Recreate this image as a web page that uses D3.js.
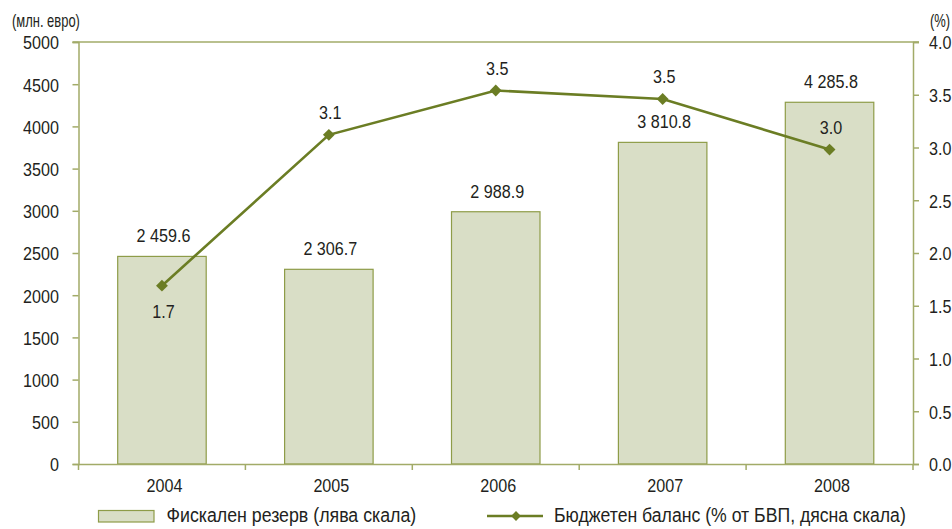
<!DOCTYPE html>
<html>
<head>
<meta charset="utf-8">
<script src="https://cdn.jsdelivr.net/npm/d3@7"></script>
<style>
  body { margin: 0; background: #fff; }
  svg text { font-family: "Liberation Sans", Arial, sans-serif; fill: #231f20; }
</style>
</head>
<body>
<div id="chart"></div>
<script>
// data
var years = ["2004", "2005", "2006", "2007", "2008"];
var reserve = [2459.6, 2306.7, 2988.9, 3810.8, 4285.8];
var balance = [1.69, 3.12, 3.54, 3.46, 2.98];
var leftTicks = [0, 500, 1000, 1500, 2000, 2500, 3000, 3500, 4000, 4500, 5000];
var rightTicks = [0, 0.5, 1, 1.5, 2, 2.5, 3, 3.5, 4];
var legendNames = ["Фискален резерв (лява скала)", "Бюджетен баланс (% от БВП, дясна скала)"];

var axisColor = "#a2ab68",
    barFill = "#d9dec6",
    barStroke = "#8e9c48",
    lineColor = "#6b7d24";

var W = 952, H = 529;
var margin = {top: 42, right: 39, bottom: 65, left: 78.5},
  width = W - margin.left - margin.right,
  height = H - margin.top - margin.bottom;

var svg = d3.select("#chart").append("svg")
    .attr("width", W)
    .attr("height", H);

var g = svg.append("g")
    .attr("transform", "translate(" + margin.left + "," + margin.top + ")");

// squeeze text horizontally, the original uses a condensed face
function condense(sel, k) {
  sel.each(function() {
    var t = d3.select(this);
    var x0 = +t.attr("x") || 0;
    t.attr("transform", "translate(" + x0 + ",0) scale(" + k + ",1) translate(" + (-x0) + ",0)");
  });
}

// scales
var xs = d3.scaleBand().domain(years).range([0, width]);
var y = d3.scaleLinear().domain([0, 5000]).range([height, 0]);
var y2 = d3.scaleLinear().domain([0, 4]).range([height, 0]);
var cx = function(i) { return xs(years[i]) + xs.bandwidth() / 2; };
var barW = 88.5;

// top border
g.append("line")
  .attr("x1", -6).attr("x2", width + 6)
  .attr("y1", 0).attr("y2", 0)
  .attr("stroke", axisColor).attr("stroke-width", 1.5);

// bars
g.selectAll(".bar")
  .data(reserve)
  .enter().append("rect")
    .attr("class", "bar")
    .attr("x", function(d, i) { return cx(i) - barW / 2; })
    .attr("width", barW)
    .attr("y", function(d) { return y(d); })
    .attr("height", function(d) { return height - y(d); })
    .attr("fill", barFill)
    .attr("stroke", barStroke)
    .attr("stroke-width", 1.2);

var fmt = function(v) {
  return d3.format(",.1f")(v).replace(",", " ");
};

g.selectAll(".barlabel")
  .data(reserve)
  .enter().append("text")
    .attr("class", "barlabel")
    .attr("x", function(d, i) { return cx(i) + 1.5; })
    .attr("y", function(d) { return y(d) - 14; })
    .attr("text-anchor", "middle")
    .style("font-size", "19px")
    .text(fmt);

// left axis
var yAxis = d3.axisLeft(y).tickValues(leftTicks).tickSize(6).tickPadding(13.5)
  .tickFormat(d3.format("d"));
var ya = g.append("g").call(yAxis);

// right axis
var y2Axis = d3.axisRight(y2).tickValues(rightTicks).tickSize(6).tickPadding(10)
  .tickFormat(d3.format(".1f"));
var ya2 = g.append("g").attr("transform", "translate(" + width + ",0)").call(y2Axis);

// bottom axis
var xAxis = d3.axisBottom(xs).tickSize(0).tickPadding(14.5);
var xa = g.append("g").attr("transform", "translate(0," + height + ")").call(xAxis);
xa.selectAll(".boundary")
  .data(years.concat(["end"]))
  .enter().append("line")
    .attr("class", "boundary")
    .attr("x1", function(d, i) { return i * xs.step(); })
    .attr("x2", function(d, i) { return i * xs.step(); })
    .attr("y1", 0).attr("y2", 6)
    .attr("stroke", axisColor).attr("stroke-width", 1.5);

[ya, ya2, xa].forEach(function(a) {
  a.select(".domain").attr("stroke", axisColor).attr("stroke-width", 1.5);
  a.selectAll(".tick line").attr("stroke", axisColor).attr("stroke-width", 1.5);
  a.selectAll(".tick text").style("font-size", "19px").attr("fill", "#231f20");
});
ya.selectAll(".tick text").attr("dy", "0.36em");
ya2.selectAll(".tick text").attr("dy", "0.36em");
xa.selectAll(".tick text").attr("x", 2.5);

// line
var valueline = d3.line()
  .x(function(d, i) { return cx(i); })
  .y(function(d) { return y2(d); });

g.append("path")
  .attr("d", valueline(balance))
  .attr("fill", "none")
  .attr("stroke", lineColor)
  .attr("stroke-width", 2.6);

var marker = d3.symbol().type(d3.symbolSquare).size(70);
g.selectAll(".pt")
  .data(balance)
  .enter().append("path")
    .attr("class", "pt")
    .attr("d", marker)
    .attr("transform", function(d, i) {
      return "translate(" + cx(i) + "," + y2(d) + ") rotate(45)";
    })
    .attr("fill", lineColor);

g.selectAll(".ptlabel")
  .data(balance)
  .enter().append("text")
    .attr("class", "ptlabel")
    .attr("x", function(d, i) { return cx(i) + 1.5; })
    .attr("y", function(d, i) { return i === 0 ? y2(d) + 32 : y2(d) - 15.5; })
    .attr("text-anchor", "middle")
    .style("font-size", "19px")
    .text(function(d) { return d3.format(".1f")(d); });

// unit labels
svg.append("text").attr("class", "unit").attr("x", 12).attr("y", 27).style("font-size", "18px").text("(млн. евро)");
svg.append("text").attr("class", "unit").attr("x", 930).attr("y", 27).style("font-size", "18px").text("(%)");

// legend
var leg = svg.append("g");
leg.append("rect")
  .attr("x", 98.5).attr("y", 510.5).attr("width", 55.5).attr("height", 11.5)
  .attr("fill", barFill).attr("stroke", barStroke).attr("stroke-width", 1.2);
var lt1 = leg.append("text").attr("x", 166.5).attr("y", 522).style("font-size", "21px")
  .text(legendNames[0]);
leg.append("line")
  .attr("x1", 487).attr("x2", 543).attr("y1", 516).attr("y2", 516)
  .attr("stroke", lineColor).attr("stroke-width", 2.6);
leg.append("path").attr("d", d3.symbol().type(d3.symbolSquare).size(48))
  .attr("transform", "translate(516,516) rotate(45)").attr("fill", lineColor);
var lt2 = leg.append("text").attr("x", 554).attr("y", 522).style("font-size", "21px")
  .text(legendNames[1]);

// fit legend texts to the widths seen in the original
condense(lt1, 250 / lt1.node().getComputedTextLength());
condense(lt2, 352 / lt2.node().getComputedTextLength());

condense(svg.selectAll(".tick text, .barlabel, .ptlabel"), 0.85);
condense(svg.selectAll(".unit"), 0.72);
</script>
</body>
</html>
